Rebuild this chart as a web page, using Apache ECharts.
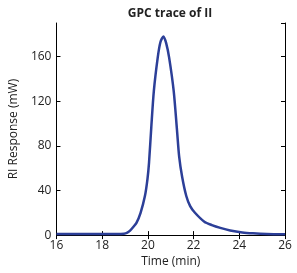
<!DOCTYPE html>
<html>
<head>
<meta charset="utf-8">
<script src="https://cdn.jsdelivr.net/npm/echarts@6/dist/echarts.min.js"></script>
<style>
  html, body { margin: 0; padding: 0; background: #fff; }
  #main { width: 297px; height: 273px; }
</style>
</head>
<body>
<div id="main"></div>
<script>
// retention time (min)
var timeMin = [16, 17, 18, 18.6, 18.95, 19.1, 19.22, 19.35, 19.5, 19.68, 19.87, 19.98, 20.05, 20.15, 20.26, 20.43, 20.55, 20.68,
  20.8, 20.93, 21.13, 21.27, 21.37, 21.5, 21.68, 21.85, 22.06, 22.47, 22.8, 23.17, 23.6, 24.13, 24.6, 25.2, 26];
// RI response (mW)
var response = [1, 1, 1, 1, 1.2, 2.2, 4, 7, 11, 20, 35, 50, 65, 97, 129, 159, 173, 178,
  172, 159, 129, 95, 70, 52, 35, 26, 20, 12, 9, 6.5, 4.2, 2.4, 1.6, 1, 0.7];

var xTicks = [16, 18, 20, 22, 24, 26];
var yTicks = [0, 40, 80, 120, 160];

var myChart = echarts.init(document.getElementById("main"));

var lineData = [];
for (var i = 0; i < timeMin.length; i++) {
  lineData.push([timeMin[i], response[i]]);
}

var font = "'Open Sans', sans-serif";
var mirrorAxis = {
  axisLine: { show: true, lineStyle: { color: "#000", width: 1 } },
  axisTick: { show: true, inside: true, length: 4, lineStyle: { color: "#000" } },
  axisLabel: { show: false },
  splitLine: { show: false }
};

var option = {
  animation: false,
  title: {
    text: "GPC trace of II",
    left: 165,
    textAlign: "center",
    top: 3,
    textStyle: { fontFamily: font, fontSize: 12, fontWeight: "bold", color: "#222" }
  },
  grid: { left: 44, right: 12, top: 23, bottom: 37 },
  xAxis: [
    Object.assign({
      type: "value", min: 16, max: 26, interval: 2, position: "bottom",
      name: "Time (min)", nameLocation: "middle", nameGap: 20,
      nameTextStyle: { fontFamily: font, fontSize: 12, color: "#222" }
    }, mirrorAxis, {
      axisLabel: { show: true, margin: 4, fontFamily: font, fontSize: 12, color: "#222",
        formatter: function (v) { return xTicks.indexOf(v) >= 0 ? String(v) : ""; } }
    }),
    Object.assign({ type: "value", min: 16, max: 26, interval: 2, position: "top" }, mirrorAxis)
  ],
  yAxis: [
    Object.assign({
      type: "value", min: 0, max: 190, interval: 40, position: "left",
      name: "RI Response (mW)", nameLocation: "middle", nameGap: 28,
      nameTextStyle: { fontFamily: font, fontSize: 12, color: "#222" }
    }, mirrorAxis, {
      axisLabel: { show: true, margin: 5, fontFamily: font, fontSize: 12, color: "#222", showMaxLabel: false,
        formatter: function (v) { return yTicks.indexOf(v) >= 0 ? String(v) : ""; } }
    }),
    Object.assign({ type: "value", min: 0, max: 190, interval: 40, position: "right" }, mirrorAxis)
  ],
  series: [
    {
      type: "line",
      data: lineData,
      smooth: 0.25,
      showSymbol: false,
      lineStyle: { color: "#2c3f98", width: 2.5 }
    }
  ]
};
myChart.setOption(option);
</script>
</body>
</html>
